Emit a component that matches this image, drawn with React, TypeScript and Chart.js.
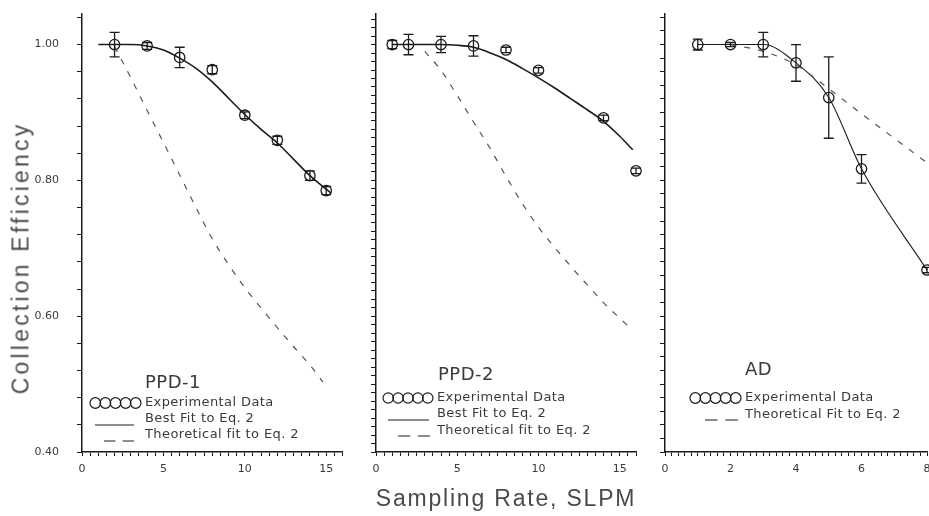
import React, { useEffect, useRef } from "react";
import { Chart, registerables } from "chart.js";
Chart.register(...registerables);

// ---------- data ----------
const Y_MIN = 0.4;
const Y_MAX = 1.045;
const yTickLabels = [0.4, 0.6, 0.8, 1.0];

// PPD-1
const ppd1ExpX = [2, 4, 6, 8, 10, 12, 14, 15];
const ppd1ExpY = [1.0, 0.998, 0.981, 0.963, 0.896, 0.859, 0.807, 0.785];
const ppd1ExpErr = [0.018, 0.005, 0.015, 0.006, 0.005, 0.006, 0.007, 0.006];
const ppd1FitX = [1, 2, 3, 4, 5, 6, 7, 8, 9, 10, 11, 12, 13, 14, 15, 15.3];
const ppd1FitY = [1.0, 1.0, 1.0, 0.998, 0.992, 0.98, 0.965, 0.945, 0.921, 0.897, 0.875, 0.855, 0.831, 0.807, 0.787, 0.781];
const ppd1TheoX = [2, 3, 4, 5, 6, 7, 8, 9, 10, 11, 12, 13, 14, 14.8];
const ppd1TheoY = [0.997, 0.951, 0.903, 0.856, 0.808, 0.76, 0.714, 0.676, 0.642, 0.612, 0.583, 0.555, 0.528, 0.503];
const ppd1XLabels = [0, 5, 10, 15];

// PPD-2
const ppd2ExpX = [1, 2, 4, 6, 8, 10, 14, 16];
const ppd2ExpY = [1.0, 1.0, 1.0, 0.998, 0.992, 0.962, 0.892, 0.814];
const ppd2ExpErr = [0.006, 0.015, 0.012, 0.015, 0.004, 0.004, 0.004, 0.004];
const ppd2FitX = [1, 2, 3, 4, 5, 6, 7, 8, 9, 10, 11, 12, 13, 14, 15, 15.8];
const ppd2FitY = [1.0, 1.0, 1.0, 1.0, 0.999, 0.996, 0.988, 0.978, 0.965, 0.951, 0.936, 0.92, 0.904, 0.887, 0.865, 0.845];
const ppd2TheoX = [3, 4, 5, 6, 7, 8, 9, 10, 11, 12, 13, 14, 15, 15.8];
const ppd2TheoY = [0.99, 0.962, 0.925, 0.886, 0.848, 0.806, 0.766, 0.731, 0.701, 0.673, 0.646, 0.62, 0.597, 0.579];
const ppd2XLabels = [0, 5, 10, 15];

// AD
const adExpX = [1, 2, 3, 4, 5, 6, 8];
const adExpY = [1.0, 1.0, 1.0, 0.973, 0.922, 0.817, 0.668];
const adExpErr = [0.008, 0.003, 0.018, 0.027, 0.06, 0.021, 0.004];
const adTheoX = [2, 3, 4, 5, 6, 7, 8];
const adTheoY = [1.0, 0.99, 0.97, 0.935, 0.898, 0.862, 0.826];
const adXLabels = [0, 2, 4, 6, 8];

const panelTitles = ["PPD-1", "PPD-2", "AD"];
const legendExp = "Experimental Data";
const legendFit = "Best Fit to Eq. 2";
const legendTheo1 = "Theoretical fit to Eq. 2";
const legendTheoAD = "Theoretical Fit to Eq. 2";
const xTitle = "Sampling Rate, SLPM";
const yTitle = "Collection Efficiency";

// ---------- styling ----------
const INK = "#1c1c1c";
const TEXT = "#3a3a3a";
const DASH_COL = "#555";
const TICK_FONT = { family: "DejaVu Sans", size: 11 };

function range(min: number, max: number, step: number) {
  const out: number[] = [];
  const n = Math.round((max - min) / step);
  for (let i = 0; i <= n; i++) out.push(+(min + i * step).toFixed(6));
  return out;
}
function pts(xs: number[], ys: number[]) {
  return xs.map((x, i) => ({ x, y: ys[i] }));
}
function near(v: number, list: number[]) {
  return list.some((l) => Math.abs(l - v) < 1e-6);
}
function zeroPad(s: any) {
  s.paddingLeft = 0;
  s.paddingRight = 0;
  s.paddingTop = 0;
  s.paddingBottom = 0;
}

function errorBarPlugin(datasetIndex: number, errors: number[]) {
  return {
    id: "errorBars",
    afterDatasetsDraw(chart: any) {
      const { ctx } = chart;
      const ys = chart.scales.y;
      const meta = chart.getDatasetMeta(datasetIndex);
      const ds = chart.data.datasets[datasetIndex];
      ctx.save();
      ctx.strokeStyle = INK;
      ctx.lineWidth = 1.3;
      ds.data.forEach((d: any, j: number) => {
        const e = errors[j];
        const x = meta.data[j].x;
        const t = ys.getPixelForValue(d.y + e);
        const b = ys.getPixelForValue(d.y - e);
        ctx.beginPath();
        ctx.moveTo(x, t);
        ctx.lineTo(x, b);
        ctx.moveTo(x - 5, t);
        ctx.lineTo(x + 5, t);
        ctx.moveTo(x - 5, b);
        ctx.lineTo(x + 5, b);
        ctx.stroke();
      });
      ctx.restore();
    },
  };
}

type Row = { kind: "circles" | "solid" | "dashed"; label: string; y: number; sx0: number; sx1: number; sy: number };
type LegendSpec = { title: string; titleX: number; titleY: number; textX: number; rows: Row[] };

function legendPlugin(spec: LegendSpec) {
  return {
    id: "panelLegend",
    afterDraw(chart: any) {
      const ctx = chart.ctx;
      ctx.save();
      ctx.fillStyle = TEXT;
      ctx.textAlign = "left";
      ctx.textBaseline = "alphabetic";
      ctx.font = '18px "DejaVu Sans"';
      (ctx as any).letterSpacing = "0.5px";
      ctx.fillText(spec.title, spec.titleX, spec.titleY);
      ctx.font = '13px "DejaVu Sans"';
      (ctx as any).letterSpacing = "0.4px";
      ctx.textBaseline = "middle";
      spec.rows.forEach((r) => {
        ctx.fillStyle = TEXT;
        ctx.fillText(r.label, spec.textX, r.y);
        ctx.strokeStyle = INK;
        ctx.lineWidth = 1.2;
        const w = r.sx1 - r.sx0;
        if (r.kind === "circles") {
          const rad = w / 9.6;
          const sp = (w - 2 * rad) / 4;
          for (let k = 0; k < 5; k++) {
            ctx.beginPath();
            ctx.arc(r.sx0 + rad + k * sp, r.sy, rad, 0, Math.PI * 2);
            ctx.stroke();
          }
        } else if (r.kind === "solid") {
          ctx.beginPath();
          ctx.moveTo(r.sx0, r.sy);
          ctx.lineTo(r.sx1, r.sy);
          ctx.stroke();
        } else {
          ctx.beginPath();
          ctx.moveTo(r.sx0, r.sy);
          ctx.lineTo(r.sx0 + w * 0.38, r.sy);
          ctx.moveTo(r.sx1 - w * 0.38, r.sy);
          ctx.lineTo(r.sx1, r.sy);
          ctx.stroke();
        }
      });
      ctx.restore();
    },
  };
}

type PanelSpec = {
  width: number;
  yWidth: number;
  padRight: number;
  xMax: number;
  xStep: number;
  xLabels: number[];
  yStep: number;
  yLabels: number[];
  yLabelPad: number;
  expX: number[];
  expY: number[];
  expErr: number[];
  expLine: boolean;
  fitX?: number[];
  fitY?: number[];
  theoX: number[];
  theoY: number[];
  legend: LegendSpec;
};

function buildConfig(p: PanelSpec): any {
  const datasets: any[] = [];
  if (p.fitX && p.fitY) {
    datasets.push({
      data: pts(p.fitX, p.fitY),
      showLine: true,
      borderColor: INK,
      borderWidth: 1.6,
      pointRadius: 0,
      cubicInterpolationMode: "monotone",
      clip: false,
    });
  }
  datasets.push({
    data: pts(p.theoX, p.theoY),
    showLine: true,
    borderColor: DASH_COL,
    borderWidth: 1.2,
    borderDash: [6, 8],
    pointRadius: 0,
    cubicInterpolationMode: "monotone",
    clip: false,
  });
  datasets.push({
    data: pts(p.expX, p.expY),
    showLine: p.expLine,
    borderColor: INK,
    borderWidth: 1.1,
    cubicInterpolationMode: "monotone",
    pointStyle: "circle",
    pointRadius: 5.2,
    pointBorderWidth: 1.3,
    pointBorderColor: INK,
    pointBackgroundColor: "rgba(0,0,0,0)",
    clip: false,
  });
  const expIndex = datasets.length - 1;
  const xTicks = range(0, p.xMax, p.xStep);
  const yTicks = range(Y_MIN, 1.04, p.yStep);
  return {
    type: "scatter",
    data: { datasets },
    options: {
      animation: false,
      responsive: false,
      maintainAspectRatio: false,
      events: [],
      layout: { autoPadding: false, padding: { top: 14, right: p.padRight, left: 0, bottom: 0 } },
      plugins: { legend: { display: false }, tooltip: { enabled: false } },
      scales: {
        x: {
          type: "linear",
          min: 0,
          max: p.xMax,
          afterBuildTicks: (s: any) => {
            s.ticks = xTicks.map((v) => ({ value: v }));
          },
          afterFit: (s: any) => {
            s.height = 64;
            zeroPad(s);
          },
          ticks: {
            autoSkip: false,
            maxRotation: 0,
            padding: 7,
            font: TICK_FONT,
            color: TEXT,
            callback: (v: any) => (near(Number(v), p.xLabels) ? String(Math.round(Number(v))) : ""),
          },
          grid: { drawOnChartArea: false, drawTicks: true, tickLength: 4, color: INK, lineWidth: 1 },
          border: { color: INK, width: 1.5 },
        },
        y: {
          type: "linear",
          min: Y_MIN,
          max: Y_MAX,
          afterBuildTicks: (s: any) => {
            s.ticks = yTicks.map((v) => ({ value: v }));
          },
          afterFit: (s: any) => {
            s.width = p.yWidth;
            zeroPad(s);
          },
          ticks: {
            autoSkip: false,
            padding: p.yLabelPad,
            font: TICK_FONT,
            color: TEXT,
            callback: (v: any) => (near(Number(v), p.yLabels) ? Number(v).toFixed(2) : ""),
          },
          grid: { drawOnChartArea: false, drawTicks: true, tickLength: 5, color: INK, lineWidth: 1 },
          border: { color: INK, width: 1.5 },
        },
      },
    },
    plugins: [errorBarPlugin(expIndex, p.expErr), legendPlugin(p.legend)],
  };
}

const panels: { left: number; spec: PanelSpec }[] = [
  {
    left: 0,
    spec: {
      width: 360,
      yWidth: 82,
      padRight: 17.5,
      xMax: 16,
      xStep: 0.5,
      xLabels: ppd1XLabels,
      yStep: 0.04,
      yLabels: yTickLabels,
      yLabelPad: 18,
      expX: ppd1ExpX,
      expY: ppd1ExpY,
      expErr: ppd1ExpErr,
      expLine: false,
      fitX: ppd1FitX,
      fitY: ppd1FitY,
      theoX: ppd1TheoX,
      theoY: ppd1TheoY,
      legend: {
        title: panelTitles[0],
        titleX: 145,
        titleY: 388,
        textX: 145,
        rows: [
          { kind: "circles", label: legendExp, y: 403, sx0: 90, sx1: 141, sy: 403 },
          { kind: "solid", label: legendFit, y: 419, sx0: 95, sx1: 134, sy: 425 },
          { kind: "dashed", label: legendTheo1, y: 435, sx0: 104, sx1: 134, sy: 441 },
        ],
      },
    },
  },
  {
    left: 350,
    spec: {
      width: 300,
      yWidth: 26,
      padRight: 14,
      xMax: 16,
      xStep: 0.5,
      xLabels: ppd2XLabels,
      yStep: 0.0125,
      yLabels: [],
      yLabelPad: 4,
      expX: ppd2ExpX,
      expY: ppd2ExpY,
      expErr: ppd2ExpErr,
      expLine: false,
      fitX: ppd2FitX,
      fitY: ppd2FitY,
      theoX: ppd2TheoX,
      theoY: ppd2TheoY,
      legend: {
        title: panelTitles[1],
        titleX: 88,
        titleY: 380,
        textX: 87,
        rows: [
          { kind: "circles", label: legendExp, y: 398, sx0: 33, sx1: 83, sy: 398 },
          { kind: "solid", label: legendFit, y: 414, sx0: 38, sx1: 79, sy: 420 },
          { kind: "dashed", label: legendTheo1, y: 431, sx0: 48, sx1: 80, sy: 436 },
        ],
      },
    },
  },
  {
    left: 650,
    spec: {
      width: 279,
      yWidth: 15,
      padRight: 2,
      xMax: 8,
      xStep: 0.2,
      xLabels: adXLabels,
      yStep: 0.02,
      yLabels: [],
      yLabelPad: 4,
      expX: adExpX,
      expY: adExpY,
      expErr: adExpErr,
      expLine: true,
      theoX: adTheoX,
      theoY: adTheoY,
      legend: {
        title: panelTitles[2],
        titleX: 95,
        titleY: 375,
        textX: 95,
        rows: [
          { kind: "circles", label: legendExp, y: 398, sx0: 40, sx1: 91, sy: 398 },
          { kind: "dashed", label: legendTheoAD, y: 415, sx0: 55, sx1: 88, sy: 420 },
        ],
      },
    },
  },
];

function Panel({ left, spec }: { left: number; spec: PanelSpec }) {
  const ref = useRef<HTMLCanvasElement | null>(null);
  useEffect(() => {
    if (!ref.current) return;
    const chart = new Chart(ref.current, buildConfig(spec));
    return () => chart.destroy();
  }, []);
  return (
    <canvas
      ref={ref}
      width={spec.width}
      height={516}
      style={{ position: "absolute", left, top: 0, width: spec.width, height: 516 }}
    />
  );
}

export default function App() {
  return (
    <div
      style={{
        position: "absolute",
        left: 0,
        top: 0,
        width: 929,
        height: 516,
        background: "#fff",
        overflow: "hidden",
      }}
    >
      {panels.map((p, i) => (
        <Panel key={i} left={p.left} spec={p.spec} />
      ))}
      <div
        style={{
          position: "absolute",
          left: 21,
          top: 258,
          transform: "translate(-50%, -50%) rotate(-90deg)",
          whiteSpace: "nowrap",
          font: '23px "Liberation Sans", Arial, sans-serif',
          letterSpacing: "3.2px",
          color: "#4a4a4a",
        }}
      >
        {yTitle}
      </div>
      <div
        style={{
          position: "absolute",
          left: 506,
          top: 498,
          transform: "translate(-50%, -50%)",
          whiteSpace: "nowrap",
          font: '23px "Liberation Sans", Arial, sans-serif',
          letterSpacing: "1.8px",
          color: "#4a4a4a",
        }}
      >
        {xTitle}
      </div>
    </div>
  );
}
